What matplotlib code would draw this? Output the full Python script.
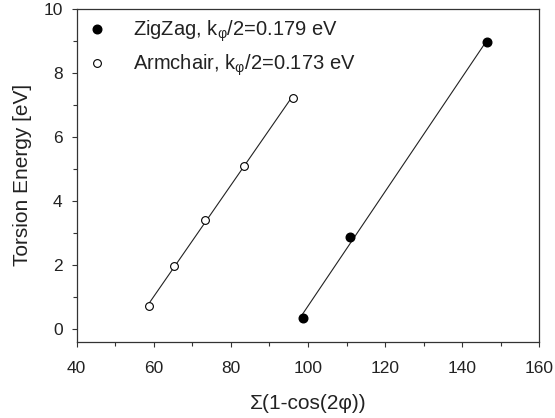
import numpy as np
import matplotlib
matplotlib.use("Agg")
import matplotlib.pyplot as plt
from matplotlib.ticker import MultipleLocator

plt.rcParams['font.family'] = ['Liberation Sans', 'DejaVu Sans']
plt.rcParams['mathtext.fontset'] = 'custom'
plt.rcParams['mathtext.rm'] = 'Liberation Sans'
plt.rcParams['mathtext.it'] = 'Liberation Sans'

zig_x = [98.6, 111.0, 146.4]
zig_y = [0.33, 2.86, 8.96]
arm_x = [58.8, 65.3, 73.3, 83.4, 96.0]
arm_y = [0.73, 1.96, 3.40, 5.10, 7.22]

zig_label = r'ZigZag, k$_{\mathrm{φ}}$/2=0.179 eV'
arm_label = r'Armchair, k$_{\mathrm{φ}}$/2=0.173 eV'

fig = plt.figure(figsize=(5.55, 4.18), dpi=100)
ax = fig.add_axes([0.1382, 0.1825, 0.8335, 0.7967])

txtc = '#222222'
for xs, ys in [(zig_x, zig_y), (arm_x, arm_y)]:
    p = np.polyfit(xs, ys, 1)
    xx = np.array([min(xs), max(xs)])
    ax.plot(xx, np.polyval(p, xx), color='#222222', lw=0.8, zorder=2)

ax.plot(zig_x, zig_y, 'o', color='black', ms=6.2, mec='black', label=zig_label, zorder=3)
ax.plot(arm_x, arm_y, 'o', color='white', ms=5.6, mec='black', mew=0.8, label=arm_label, zorder=3)

ax.set_xlim(40, 160)
ax.set_ylim(-0.4, 10)
ax.xaxis.set_major_locator(MultipleLocator(20))
ax.xaxis.set_minor_locator(MultipleLocator(10))
ax.yaxis.set_major_locator(MultipleLocator(2))
ax.yaxis.set_minor_locator(MultipleLocator(1))
ax.tick_params(which='both', direction='out', colors='#333333', labelcolor=txtc, labelsize=12.5)
ax.tick_params(which='major', length=3.6, width=0.8)
ax.tick_params(which='minor', length=3, width=0.8)
ax.tick_params(axis='x', pad=10)
ax.tick_params(axis='y', pad=6.5)
for s in ax.spines.values():
    s.set_color('#333333')
    s.set_linewidth(0.9)

ax.set_xlabel('Σ(1-cos(2φ))', fontsize=15, color=txtc, labelpad=13)
ax.set_ylabel('Torsion Energy [eV]', fontsize=15, color=txtc, labelpad=8)

leg = ax.legend(loc='upper left', frameon=False, fontsize=14.5, handletextpad=1.28,
                borderaxespad=0.5, borderpad=0.0, labelspacing=0.42, handlelength=1.0)
for t in leg.get_texts():
    t.set_color(txtc)

fig.savefig('out.png', dpi=100)
